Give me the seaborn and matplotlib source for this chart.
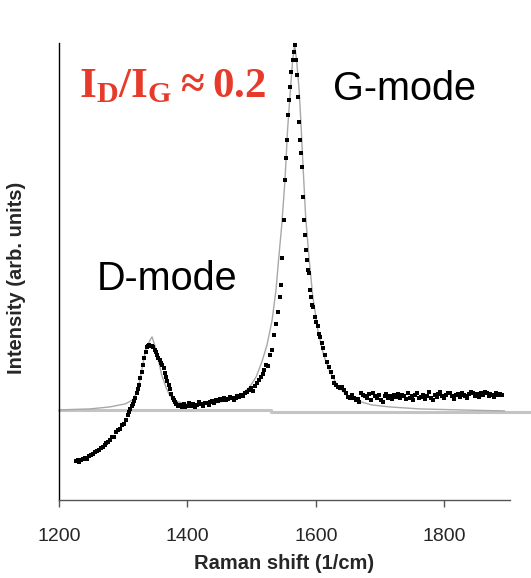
import numpy as np
import pandas as pd
import seaborn as sns
import matplotlib.pyplot as plt

# measured spectrum (Raman shift in 1/cm, intensity in arb. units)
shift = [1226, 1229, 1232, 1235, 1238, 1241, 1244, 1247, 1250, 1253, 1256, 1259, 1262, 1265, 1268,
         1271, 1274, 1277, 1280, 1283, 1286, 1289, 1292, 1295, 1298, 1301, 1304, 1307, 1309, 1311,
         1313, 1315, 1317, 1319, 1321, 1323, 1325, 1327, 1329, 1331, 1333, 1335, 1337, 1339, 1341,
         1343, 1345, 1347, 1349, 1351, 1353, 1355, 1357, 1359, 1361, 1363, 1365, 1367, 1369, 1371,
         1373, 1375, 1377, 1379, 1381, 1383, 1385, 1388, 1391, 1394, 1397, 1400, 1403, 1406, 1409,
         1412, 1415, 1418, 1421, 1424, 1427, 1430, 1433, 1436, 1439, 1442, 1445, 1448, 1451, 1454,
         1457, 1460, 1463, 1466, 1469, 1472, 1475, 1478, 1481, 1484, 1487, 1490, 1493, 1496, 1499,
         1502, 1505, 1508, 1511, 1514, 1517, 1520, 1523, 1526, 1529, 1532, 1535, 1538, 1541, 1544,
         1546, 1548, 1550, 1552, 1554, 1555, 1556, 1558, 1560, 1562, 1564, 1566, 1567, 1569, 1570,
         1572, 1574, 1576, 1577, 1578, 1580, 1582, 1583, 1585, 1586, 1588, 1589, 1591, 1592, 1594,
         1595, 1598, 1601, 1603, 1605, 1606, 1609, 1611, 1614, 1617, 1620, 1623, 1626, 1629, 1632,
         1635, 1638, 1641, 1644, 1647, 1650, 1653, 1656, 1659, 1662, 1665, 1668, 1671, 1674, 1677,
         1680, 1683, 1686, 1689, 1692, 1695, 1698, 1701, 1704, 1707, 1710, 1713, 1716, 1719, 1722,
         1725, 1728, 1731, 1734, 1737, 1740, 1743, 1746, 1749, 1752, 1755, 1758, 1761, 1764, 1767,
         1770, 1773, 1776, 1779, 1782, 1785, 1788, 1791, 1794, 1797, 1800, 1803, 1806, 1809, 1812,
         1815, 1818, 1821, 1824, 1827, 1830, 1833, 1836, 1839, 1842, 1845, 1848, 1851, 1854, 1857,
         1860, 1863, 1866, 1869, 1872, 1875, 1878, 1881, 1884, 1887, 1890]
intensity = [-51, -50, -52, -50, -49, -48, -49, -46, -45, -44, -42, -41, -40, -38, -37,
             -35, -33, -32, -30, -27, -27, -22, -20, -19, -15, -14, -10, -5, -2, 1,
             4, 6, 9, 12, 17, 21, 25, 32, 38, 45, 52, 58, 63, 64, 65,
             64, 64, 63, 60, 58, 55, 52, 50, 47, 45, 42, 37, 33, 29, 25,
             21, 16, 12, 10, 8, 6, 4, 5, 3, 6, 3, 4, 7, 4, 6,
             3, 5, 8, 6, 4, 7, 7, 5, 8, 9, 7, 10, 9, 11, 10,
             12, 10, 11, 13, 12, 10, 12, 14, 13, 15, 14, 17, 18, 20, 22,
             19, 24, 27, 30, 33, 36, 40, 45, 44, 55, 60, 75, 86, 98, 113,
             125, 152, 190, 230, 252, 270, 295, 310, 323, 338, 350, 358, 365, 350, 335,
             313, 288, 270, 257, 243, 213, 190, 175, 160, 150, 140, 137, 120, 113, 105,
             103, 93, 88, 84, 76, 73, 67, 62, 55, 48, 43, 38, 33, 27, 25,
             23, 22, 23, 20, 17, 13, 12, 15, 12, 10, 11, 8, 17, 15, 14,
             12, 16, 10, 17, 14, 12, 15, 10, 8, 14, 16, 12, 14, 11, 15,
             13, 16, 12, 15, 14, 11, 17, 12, 14, 10, 15, 17, 12, 13, 15,
             11, 14, 18, 12, 10, 15, 13, 16, 18, 14, 12, 15, 17, 17, 14,
             11, 15, 16, 13, 17, 15, 14, 12, 16, 18, 17, 14, 16, 13, 17,
             15, 18, 17, 14, 16, 15, 13, 17, 15, 16, 15]

# fitted curve
fit_shift = [1200, 1248, 1279, 1303, 1315, 1323, 1329, 1335, 1342, 1345, 1349, 1354, 1360, 1367,
             1373, 1382, 1396, 1412, 1427, 1443, 1458, 1474, 1486, 1497, 1507, 1516, 1524, 1532,
             1538, 1542, 1547, 1552, 1556, 1561, 1564, 1567, 1570, 1574, 1577, 1580, 1584, 1589,
             1595, 1603, 1612, 1622, 1634, 1648, 1665, 1687, 1715, 1762, 1824, 1894]
fit_int = [0, 1, 3, 6, 10, 20, 40, 60, 70, 73, 65, 52, 35, 22,
           14, 9, 6, 5, 6, 7, 9, 12, 16, 23, 33, 48, 65, 90,
           120, 150, 185, 230, 280, 325, 350, 365, 350, 320, 285, 245, 195, 155,
           115, 80, 55, 38, 24, 15, 9, 5, 3, 1, 0, -1]

# baseline
base_shift = [1200, 1530, 1530, 1935]
base_int = [0, 0, -2, -2]

spec = pd.DataFrame({'shift': shift, 'intensity': intensity})
fit = pd.DataFrame({'shift': fit_shift, 'intensity': fit_int})

sns.set_style('white')
plt.rcParams['font.family'] = ['Liberation Sans', 'DejaVu Sans']
plt.rcParams['mathtext.fontset'] = 'custom'
plt.rcParams['mathtext.rm'] = 'Liberation Serif'
plt.rcParams['mathtext.bf'] = 'Liberation Serif:bold'

fig = plt.figure(figsize=(5.31, 5.78), dpi=100)
ax = fig.add_axes([0.111, 0.135, 0.849, 0.791])

base_line, = ax.plot(base_shift, base_int, color='#c4c4c4', lw=2.2, zorder=1)
base_line.set_clip_on(False)
sns.lineplot(data=fit, x='shift', y='intensity', ax=ax, color='#a8a8a8', lw=1.0,
             sort=False, estimator=None, zorder=2)
sns.scatterplot(data=spec, x='shift', y='intensity', ax=ax, color='black', marker='s',
                s=11, linewidth=0, zorder=3)

ax.set_xlim(1200, 1902)
ax.set_ylim(-90, 367)
ax.set_xticks([1200, 1400, 1600, 1800])
ax.set_yticks([])
ax.tick_params(axis='x', direction='out', length=5, width=1, color='#555555',
               labelsize=14, pad=15, bottom=True)
for side in ['top', 'right']:
    ax.spines[side].set_visible(False)
ax.spines['left'].set_color('black')
ax.spines['bottom'].set_color('#555555')
ax.spines['left'].set_linewidth(1)
ax.spines['bottom'].set_linewidth(1)

ax.set_xlabel('Raman shift (1/cm)', fontsize=14.5, fontweight='bold', labelpad=7)
ax.set_ylabel('Intensity (arb. units)', fontsize=14.5, fontweight='bold')
ax.yaxis.set_label_coords(-0.073, 0.486)

ax.text(1259, 120, 'D-mode', fontsize=28.5, color='black')
ax.text(1626, 310, 'G-mode', fontsize=28.5, color='black')
ax.text(1232, 312, r'$\mathbf{I_D/I_G \approx 0.2}$', fontsize=31, color='#e63a2a')

fig.savefig('out.png', dpi=100)
